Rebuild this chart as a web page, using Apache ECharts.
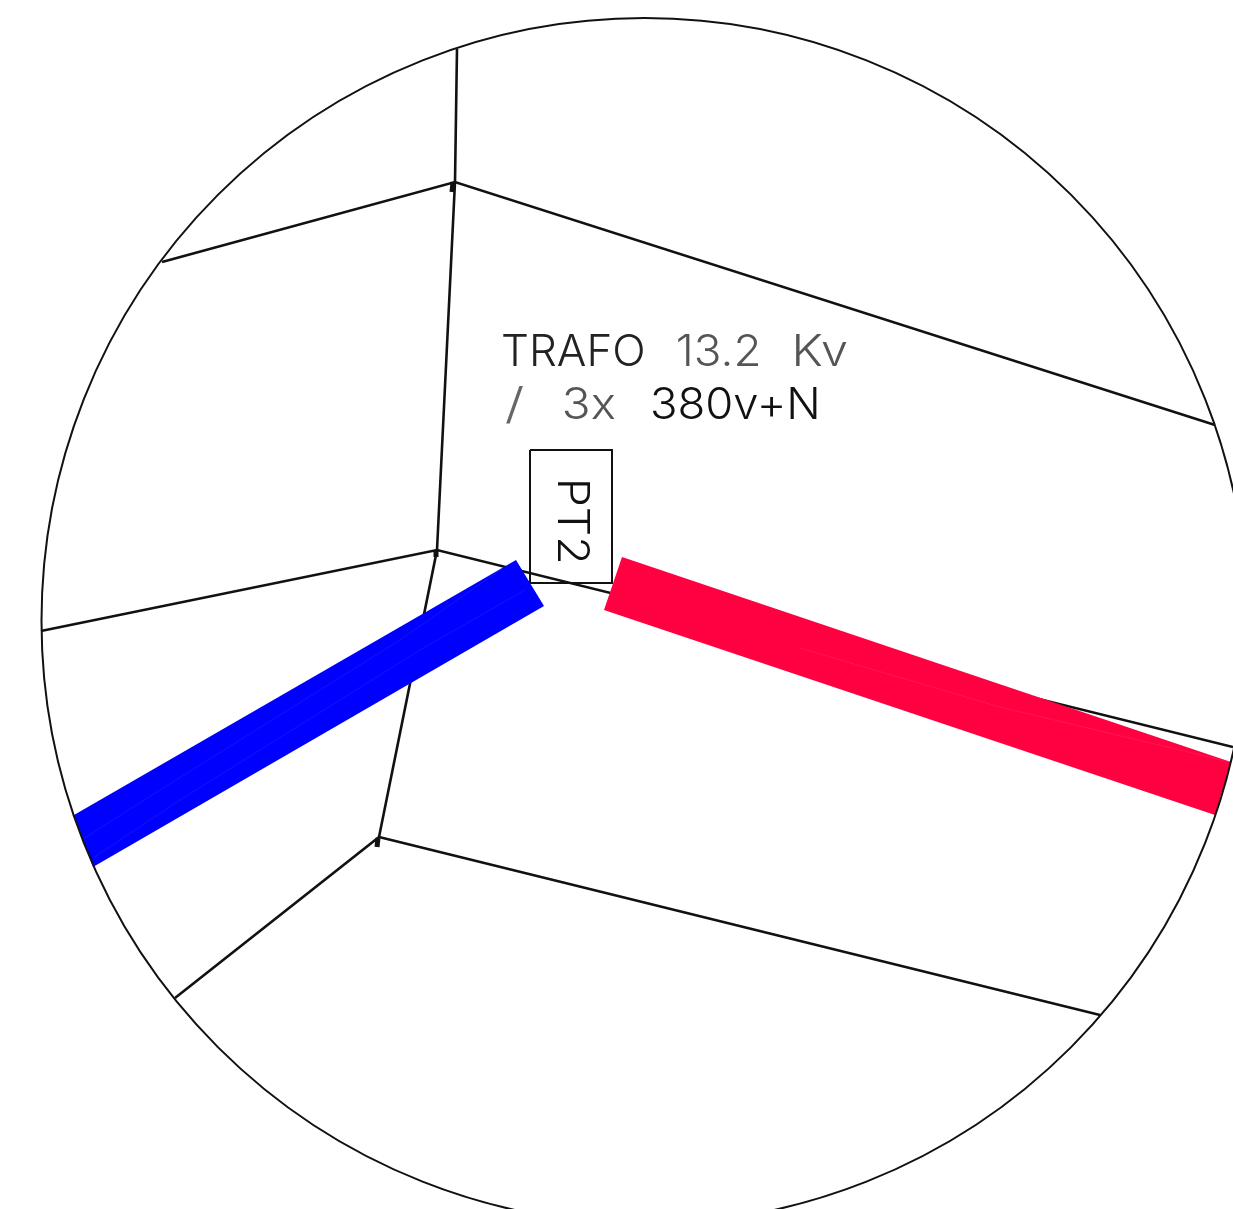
<!DOCTYPE html>
<html><head><meta charset="utf-8">
<style>html,body{margin:0;padding:0;background:#fff}#c{width:1233px;height:1209px}</style>
<script src="https://cdn.jsdelivr.net/npm/echarts@6/dist/echarts.min.js"></script>
</head><body><div id="c"></div>
<script>
// Boundary circle: centre x, centre y, radius (plot units = source picture units)
const boundary = [[644.5, 621, 603]];
// Street and plot lines
const lineNorth = [[457, 49], [455, 182], [437, 550], [379, 837], [175, 998]];
const lineUpper = [[162, 262], [455, 182], [1215, 425]];
const lineMiddle = [[41, 631], [437, 550], [1233, 747]];
const lineLower = [[379, 837], [1100, 1015]];
const pt2Box = [[530, 450], [612, 450], [612, 583], [530, 583], [530, 450]];
// Short pole stubs at junctions
const stubs = [[[453, 182], [452, 192]], [[436, 550], [436, 557]], [[378, 838], [377, 847]]];
// Thick feeders
const blueFeeder = [[516, 560], [544, 606], [93, 867], [74, 815]];
const redFeeder = [[622, 557], [1231, 762], [1215, 815], [604, 610]];
// Hairline seams inside feeders
const blueSeams = [[[83, 839], [160, 790], [400, 640], [503, 568]], [[93, 858], [180, 800], [420, 650], [525, 590]]];
const redSeams = [[[800, 648], [1000, 707], [1230, 762]]];
// Annotations
const labels = ['TRAFO', '13.2', 'Kv', '/', '3x', '380v+N', 'PT2'];
const labelBoxes = [[503, 335, 643, 366], [678, 335, 759, 366], [796, 335, 847, 366], [506, 388, 523, 419], [564, 388, 615, 419], [652, 388, 817, 419], [558, 482, 589, 562]];
const labelColors = ['#222', '#555', '#555', '#666', '#555', '#111', '#111'];

const FONT = '300 43px Inter';
const ctx = document.createElement('canvas').getContext('2d');
ctx.font = FONT;

function poly(name, data, color, width, z) {
  return {name, type: 'line', data, z, silent: true, showSymbol: false, symbol: 'none', animation: false,
    clip: true, lineStyle: {color, width, cap: 'butt', join: 'miter'}};
}
function fill(name, data, color, z) {
  return {name, type: 'custom', z, silent: true, animation: false, data,
    encode: {x: 0, y: 1},
    renderItem: (p, api) => p.dataIndex === 0 ? {type: 'polygon', shape: {points: data.map(d => api.coord(d))}, style: {fill: color}} : null};
}
const series = [
  poly('north', lineNorth, '#111', 2.6, 2),
  poly('upper', lineUpper, '#111', 2.6, 2),
  poly('middle', lineMiddle, '#111', 2.6, 2),
  poly('lower', lineLower, '#111', 2.6, 2),
  poly('box', pt2Box, '#111', 2, 2),
  ...stubs.map((s, i) => poly('stub' + i, s, '#111', 5, 2)),
  fill('blue', blueFeeder, '#0000ff', 3),
  fill('red', redFeeder, '#ff0040', 3),
  ...blueSeams.map((s, i) => poly('bs' + i, s, '#2020ff', 0.6, 4)),
  ...redSeams.map((s, i) => poly('rs' + i, s, '#ff2a60', 0.5, 4)),
  {name: 'boundary', type: 'custom', z: 5, silent: true, animation: false, data: boundary,
    encode: {x: 0, y: 1},
    renderItem: (p, api) => {
      const c = api.coord([api.value(0), api.value(1)]);
      const r = api.size([api.value(2), api.value(2)])[0];
      return {type: 'circle', shape: {cx: c[0], cy: c[1], r}, style: {fill: 'none', stroke: '#111', lineWidth: 2}};
    }},
  {name: 'text', type: 'custom', z: 6, silent: true, animation: false, clip: false,
    data: labels.map((t, i) => [...labelBoxes[i], i]),
    encode: {x: 0, y: 1},
    renderItem: (p, api) => {
      const i = p.dataIndex, b = labelBoxes[i], t = labels[i];
      const a = api.coord([b[0], b[1]]), e = api.coord([b[2], b[3]]);
      const vertical = t === 'PT2';
      const target = vertical ? e[1] - a[1] : e[0] - a[0];
      const m = ctx.measureText(t);
      const w = m.actualBoundingBoxLeft + m.actualBoundingBoxRight;
      const mid = (m.actualBoundingBoxRight - m.actualBoundingBoxLeft) / 2;
      const s = target / w;
      const cx = (a[0] + e[0]) / 2, cy = (a[1] + e[1]) / 2;
      return {type: 'text', x: cx, y: cy, rotation: vertical ? -Math.PI / 2 : 0, scaleX: s, scaleY: 1,
        originX: 0, originY: 0,
        style: {text: t, font: FONT, fill: labelColors[i], align: 'left', verticalAlign: 'top',
          x: -mid, y: -19.4}};
    }}
];
const chart = echarts.init(document.getElementById('c'), null, {renderer: 'canvas', width: 1233, height: 1209});
chart.setOption({
  animation: false, backgroundColor: '#fff', tooltip: {show: false}, legend: {show: false},
  grid: {left: 0, right: 0, top: 0, bottom: 0},
  xAxis: {type: 'value', min: 0, max: 1233, show: false},
  yAxis: {type: 'value', min: 0, max: 1209, inverse: true, show: false},
  series
});
</script></body></html>
